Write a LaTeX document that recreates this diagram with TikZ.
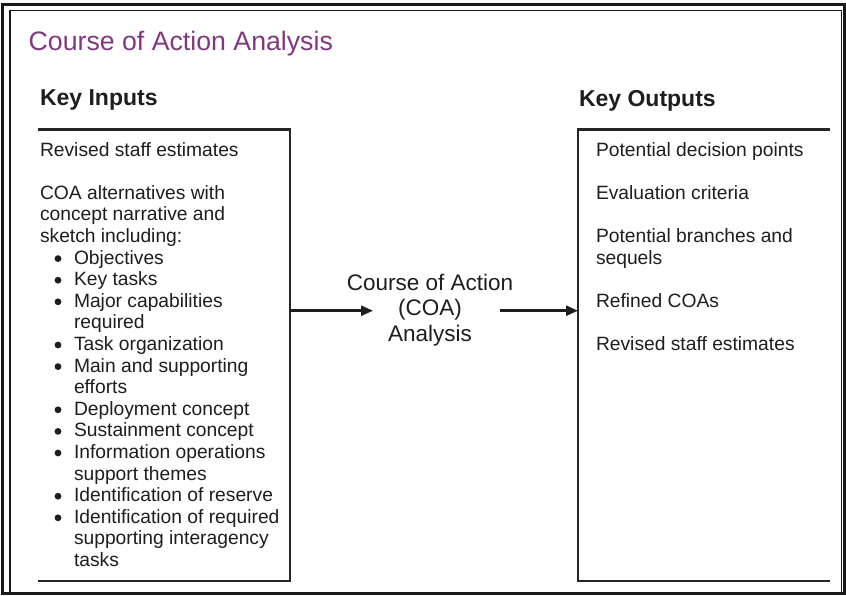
\documentclass[tikz,border=0pt]{standalone}
\usepackage{fontspec}
\setmainfont{Liberation Sans}
\usetikzlibrary{arrows.meta}
\definecolor{titlepurple}{RGB}{128,57,128}
\definecolor{ink}{RGB}{30,30,30}
\begin{document}
\begin{tikzpicture}[x=1pt,y=-1pt,
  txt/.style={anchor=base west,inner sep=0pt,outer sep=0pt,text=ink,font=\fontsize{19.25}{21.6}\selectfont},
  ctxt/.style={anchor=base,inner sep=0pt,outer sep=0pt,text=ink,font=\fontsize{22.5}{25.5}\selectfont},
  head/.style={anchor=base west,inner sep=0pt,outer sep=0pt,text=ink,font=\fontsize{23}{27}\selectfont\bfseries},
  dot/.style={circle,fill=ink,draw=none,inner sep=0pt,minimum size=6.8pt},
  boxline/.style={draw=black!85,line width=2.4pt},
  arr/.style={draw=ink,line width=2.5pt,-{Triangle[length=12pt,width=10pt]}}
]
\useasboundingbox (0,0) rectangle (846,595);
\fill[white] (0,0) rectangle (846,595);
% frame
\draw[line width=3.2pt,black!90] (2.8,4.2) rectangle (844.5,593.3);
\draw[line width=1.8pt,black!90] (10,10.5) rectangle (841.5,593);
% title and headings
\node[anchor=base west,inner sep=0pt,text=titlepurple,font=\fontsize{26.7}{30}\selectfont] (title) at (28.5,50) {Course of Action Analysis};
\node[head] (kin) at (40,105) {Key Inputs};
\node[head] (kout) at (579,106.5) {Key Outputs};
% input box (open on the left)
\coordinate (iTL) at (38,129.5);
\coordinate (iTR) at (290,129.5);
\coordinate (iBR) at (290,581);
\coordinate (iBL) at (38,581);
\draw[boxline] (iTL) -- (iTR) -- (iBR) -- (iBL);
% output box (open on the right)
\coordinate (oTR) at (830,129.5);
\coordinate (oTL) at (578,129.5);
\coordinate (oBL) at (578,581);
\coordinate (oBR) at (830,581);
\draw[boxline] (oTR) -- (oTL) -- (oBL) -- (oBR);
% input texts
\foreach \k/\t in {0/Revised staff estimates,2/COA alternatives with,3/concept narrative and,4/sketch including:}
  \node[txt] (in\k) at (40,{156+21.6*\k}) {\t};
\foreach \k/\t in {5/Objectives,6/Key tasks,7/Major capabilities,9/Task organization,10/Main and supporting,12/Deployment concept,13/Sustainment concept,14/Information operations,16/Identification of reserve,17/Identification of required}{
  \node[dot] (d\k) at (58,{156+21.6*\k-5.4}) {};
  \node[txt] (in\k) at (74,{156+21.6*\k}) {\t};
}
\foreach \k/\t in {8/required,11/efforts,15/support themes,18/supporting interagency,19/tasks}
  \node[txt] (in\k) at (74,{156+21.6*\k}) {\t};
% output texts
\foreach \k/\t in {0/Potential decision points,2/Evaluation criteria,4/Potential branches and,5/sequels,7/Refined COAs,9/Revised staff estimates}
  \node[txt] (out\k) at (596,{156+21.6*\k}) {\t};
% centre process
\node[ctxt] (coa1) at (430,290) {Course of Action};
\node[ctxt] (coa2) at (430,315.8) {(COA)};
\node[ctxt] (coa3) at (430,341.3) {Analysis};
% arrows
\coordinate (a1s) at (290,310.7);
\coordinate (a1e) at (373,310.7);
\coordinate (a2s) at (500,310.7);
\coordinate (a2e) at (578,310.7);
\draw[arr] (a1s) -- (a1e);
\draw[arr] (a2s) -- (a2e);
\end{tikzpicture}
\end{document}
